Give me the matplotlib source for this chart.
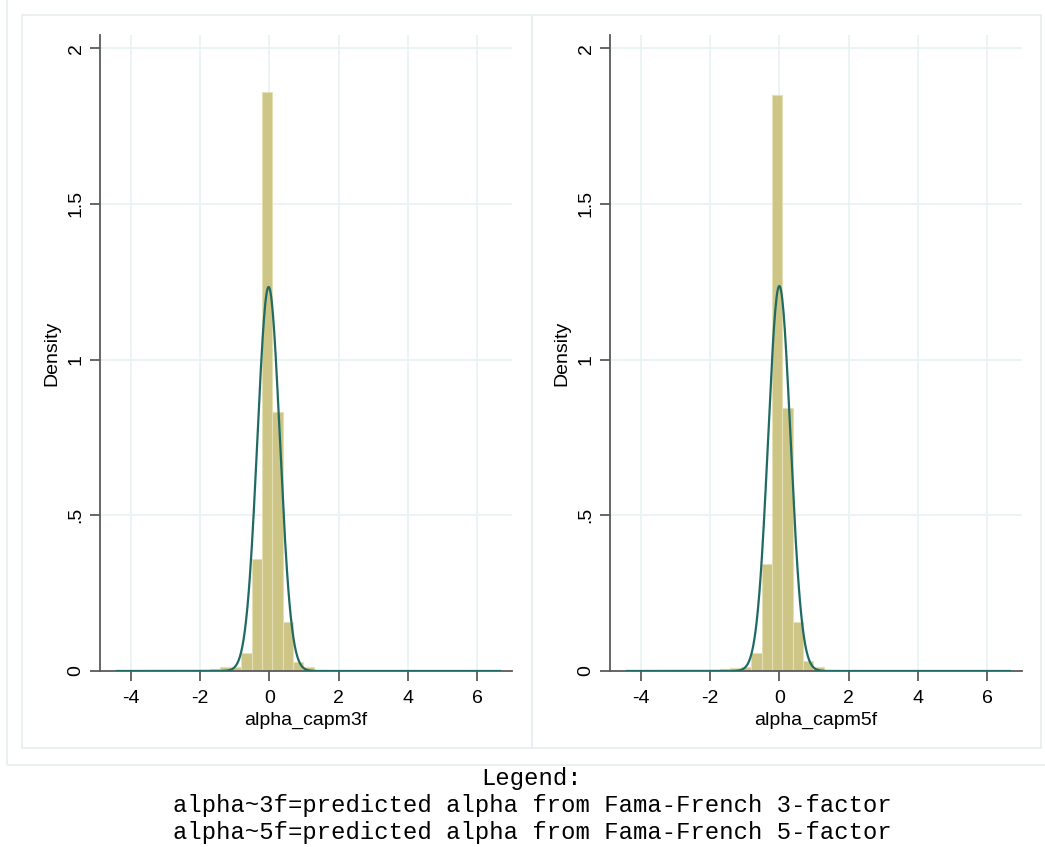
import matplotlib.pyplot as plt
import numpy as np
from matplotlib.patches import Rectangle

# histogram bins (Stata default: 37 bins over the data range)
bin_start = -4.40
bin_width = 0.299
bin_index = [9, 10, 11, 12, 13, 14, 15, 16, 17, 18]
dens_3f = [0.007, 0.012, 0.014, 0.058, 0.360, 1.858, 0.830, 0.157, 0.030, 0.012]
dens_5f = [0.006, 0.010, 0.012, 0.058, 0.345, 1.850, 0.846, 0.157, 0.032, 0.012]

# fitted normal overlay
mean_3f, sd_3f = -0.02, 0.3235
mean_5f, sd_5f = 0.0, 0.3227
data_min, data_max = -4.40, 6.66

xticks = [-4, -2, 0, 2, 4, 6]
yticks = [0, 0.5, 1, 1.5, 2]
ytick_labels = ['0', '.5', '1', '1.5', '2']

legend_lines = ['Legend:',
                'alpha~3f=predicted alpha from Fama-French 3-factor',
                'alpha~5f=predicted alpha from Fama-French 5-factor']

W, H = 1045, 847
plt.rcParams['font.family'] = ['Liberation Sans', 'DejaVu Sans']
plt.rcParams['axes.unicode_minus'] = False
fig = plt.figure(figsize=(W / 100, H / 100), dpi=100)

box_col = '#e6eeef'
# outer box and the two panel boxes (pixel coords)
fig.patches.append(Rectangle((7 / W, 1 - 765 / H), 1.1, 1.1, transform=fig.transFigure,
                             fill=False, ec=box_col, lw=1.2))
for x0, x1 in [(22, 532), (532, 1041)]:
    fig.patches.append(Rectangle((x0 / W, 1 - 748 / H), (x1 - x0) / W, (748 - 15) / H,
                                 transform=fig.transFigure, fill=False, ec=box_col, lw=1.2))


def panel(left_px, dens, mu, sd, label):
    ax = fig.add_axes([left_px / W, 1 - 671 / H, 411.7 / W, 636 / H])
    lefts = [bin_start + k * bin_width for k in bin_index]
    ax.bar(lefts, dens, width=bin_width, align='edge', color='#cdc585',
           edgecolor='#e4dfb4', linewidth=0.8, zorder=2)
    xs = np.linspace(data_min, data_max, 600)
    ys = np.exp(-0.5 * ((xs - mu) / sd) ** 2) / (sd * np.sqrt(2 * np.pi))
    ax.plot(xs, ys, color='#1f6b63', lw=1.6, zorder=3)
    ax.set_xlim(-4.89, 7.0)
    ax.set_ylim(0, 2.042)
    ax.set_xticks(xticks)
    ax.set_yticks(yticks)
    ax.set_yticklabels(ytick_labels, rotation=90, va='center')
    ax.grid(True, color='#eaf2f3', lw=1.3, zorder=0)
    ax.set_axisbelow(True)
    for s in ['top', 'right']:
        ax.spines[s].set_visible(False)
    for s in ['left', 'bottom']:
        ax.spines[s].set_color('#5a5a5a')
        ax.spines[s].set_linewidth(1.3)
    ax.tick_params(axis='both', length=7, width=1.3, color='#5a5a5a',
                   labelsize=14, labelcolor='black')
    ax.tick_params(axis='x', pad=7)
    ax.tick_params(axis='y', pad=4)
    ax.set_xlabel(label, fontsize=14, labelpad=3)
    ax.set_ylabel('Density', fontsize=14, labelpad=5)
    return ax


panel(100, dens_3f, mean_3f, sd_3f, 'alpha_capm3f')
panel(610, dens_5f, mean_5f, sd_5f, 'alpha_capm5f')

for y, line in zip([778, 805, 832], legend_lines):
    fig.text(532 / W, 1 - y / H, line, ha='center', va='center',
             family='Liberation Mono', fontsize=17.2)

fig.savefig('out.png', dpi=100)
